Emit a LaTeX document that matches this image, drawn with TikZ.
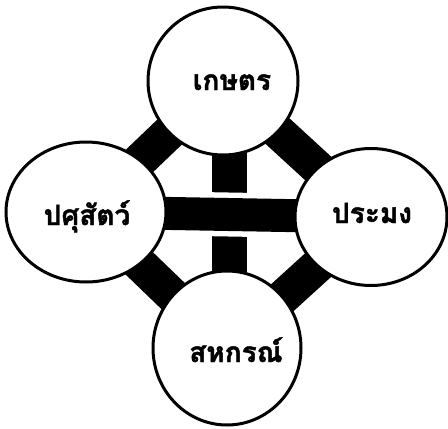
\documentclass[tikz,border=0pt]{standalone}
\usepackage{fontspec}
\newfontfamily\thaifont[Script=Thai, BoldFeatures={FakeBold=1.5}]{Loma}
\usetikzlibrary{shapes.geometric}
\pgfdeclarelayer{background}
\pgfsetlayers{background,main}
\begin{document}
\begin{tikzpicture}[x=1pt,y=-1pt,
  circ/.style={draw=black, line width=3pt, fill=white, ellipse, inner sep=0pt, outer sep=0pt},
  bar/.style={line width=35pt, draw=black},
  gapbar/.style={line width=44pt, draw=white},
  hbar/.style={line width=33pt, draw=black},
  lbl/.style={font=\thaifont\bfseries\fontsize{28}{30}\selectfont, anchor=base, inner sep=0pt}]
\useasboundingbox (0,0) rectangle (448,429);
\node[circ, minimum width=150pt, minimum height=148pt] (top) at (223,81) {};
\node[circ, minimum width=160pt, minimum height=140pt] (left) at (86,212) {};
\node[circ, minimum width=152pt, minimum height=137pt] (right) at (371,217) {};
\node[circ, minimum width=148pt, minimum height=154pt] (bot) at (227,348) {};
\begin{pgfonlayer}{background}
  \draw[bar] (top.center) -- (left.center);
  \draw[bar] (top.center) -- (right.center);
  \draw[bar] (bot.center) -- (left.center);
  \draw[bar] (bot.center) -- (right.center);
  \draw[bar] ([xshift=6pt]top.center) -- ([xshift=2pt]bot.center);
  \draw[gapbar] (left.center) -- (right.center);
  \draw[hbar] (left.center) -- (right.center);
\end{pgfonlayer}
\node[lbl] (ltop) at (232,90) {เกษตร};
\node[lbl] (lleft) at (87,225) {ปศุสัตว์};
\node[lbl] (lright) at (372,223) {ประมง};
\node[lbl] (lbot) at (236,362) {สหกรณ์};
\end{tikzpicture}
\end{document}
